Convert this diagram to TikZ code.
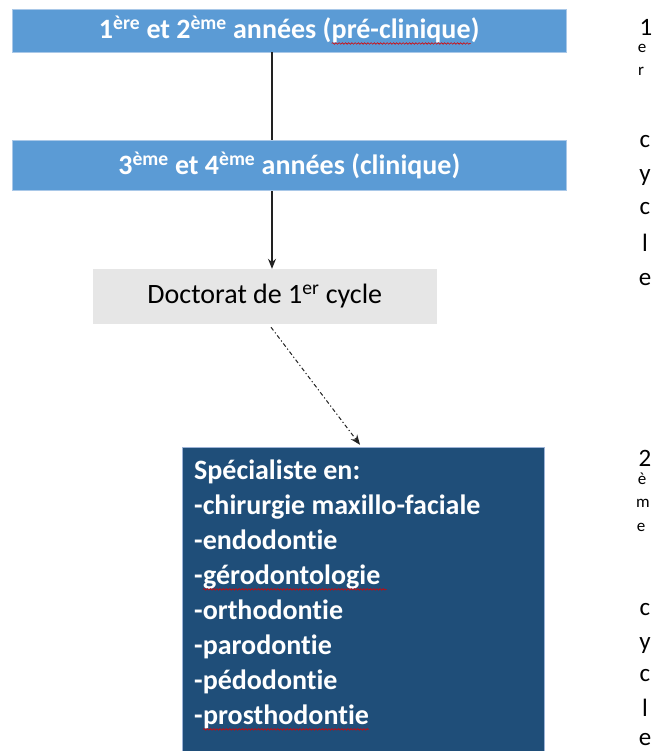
\documentclass[tikz,border=0pt]{standalone}
\usepackage{fontspec}
\setmainfont[Ligatures=NoCommon]{Carlito}
\usetikzlibrary{arrows.meta,decorations.pathmorphing}
\definecolor{bluebox}{HTML}{5B9BD5}
\definecolor{blueedge}{HTML}{A9C8E8}
\definecolor{graybox}{HTML}{E6E6E6}
\definecolor{navybox}{HTML}{1F4E79}
\definecolor{navyedge}{HTML}{9DB3D6}
\definecolor{linecol}{HTML}{222222}
\newcommand\spellerr[1]{\tikz[baseline=(w.base)]{\node[inner sep=0pt, outer sep=0pt, minimum width=0pt,
    minimum height=0pt, fill=none, draw=none, text=white] (w) {#1};
  \draw[red!85!black, line width=0.6pt, decoration={snake,amplitude=0.8pt,segment length=3.2pt}, decorate]
    ([yshift=-4.5pt]w.base west) -- ([yshift=-4.5pt]w.base east);}}
\begin{document}
\begin{tikzpicture}[x=1pt,y=-1pt,
  bluebox/.style={fill=bluebox, draw=blueedge, line width=0.8pt, text=white,
    font=\fontsize{28}{34}\selectfont\bfseries, minimum width=553.3pt, inner sep=0pt},
  graynode/.style={fill=graybox, draw=none, text=black,
    font=\fontsize{28}{34}\selectfont, minimum width=344.3pt, minimum height=55pt, inner sep=0pt},
  navynode/.style={fill=navybox, draw=navyedge, line width=0.8pt,
    minimum width=361.3pt, minimum height=306pt, inner sep=0pt},
  listtext/.style={text=white, font=\fontsize{28}{35}\selectfont\bfseries,
    align=left, inner sep=0pt, anchor=north west},
  conn/.style={draw=linecol, line width=1.1pt},
  tip/.style={-{Stealth[length=10pt,width=8pt]}},
  bigch/.style={font=\fontsize{25}{25}\selectfont, inner sep=0pt, text=black},
  smallch/.style={font=\fontsize{17}{17}\selectfont, inner sep=0pt, text=black}]
\useasboundingbox (0,0) rectangle (654,751);
\fill[white] (0,0) rectangle (654,751);

\node[bluebox, minimum height=43pt] (b1) at (289.3,30.5)
  {1\textsuperscript{ère} et 2\textsuperscript{ème} années (\spellerr{pré-clinique})};
\node[bluebox, minimum height=50.7pt] (b2) at (289.3,165.3)
  {3\textsuperscript{ème} et 4\textsuperscript{ème} années (clinique)};
\node[graynode] (doc) at (264.8,296.5) {Doctorat de 1\textsuperscript{er} cycle};
\node[navynode] (spec) at (363.3,600.7) {};
\node[listtext] (spectext) at (194,460)
  {Spécialiste en:\\
   -chirurgie maxillo-faciale\\
   -endodontie\\
   -\spellerr{gérodontologie\ }\\
   -orthodontie\\
   -parodontie\\
   -pédodontie\\
   -\spellerr{prosthodontie}};

\coordinate (lx) at (272,0);
\draw[conn] (b1.south -| lx) -- (b2.north -| lx);
\draw[conn, tip] (b2.south -| lx) -- (doc.north -| lx);
\draw[conn, tip, line width=1pt, dash pattern=on 4pt off 2.5pt on 1.2pt off 2.5pt]
  ([shift={(6.2,3)}]doc.south) -- ([shift={(-3.3,-2.5)}]spec.north);

% right column: 1er cycle
\node[bigch] (c1a) at (646,27) {1};
\node[smallch] (c1b) at (642,48) {e};
\node[smallch] (c1c) at (641,71) {r};
\node[bigch] (c1d) at (645,142) {c};
\node[bigch] (c1e) at (645,178) {y};
\node[bigch] (c1f) at (645,209) {c};
\node[bigch] (c1g) at (645,243) {l};
\node[bigch] (c1h) at (645,280) {e};
% right column: 2eme cycle
\node[bigch] (c2a) at (645,458) {2};
\node[smallch] (c2b) at (642,479) {è};
\node[smallch] (c2c) at (643,503) {m};
\node[smallch] (c2d) at (641,527) {e};
\node[bigch] (c2e) at (645,610) {c};
\node[bigch] (c2f) at (645,646) {y};
\node[bigch] (c2g) at (645,676) {c};
\node[bigch] (c2h) at (645,708) {l};
\node[bigch] (c2i) at (645,740) {e};
\end{tikzpicture}
\end{document}
